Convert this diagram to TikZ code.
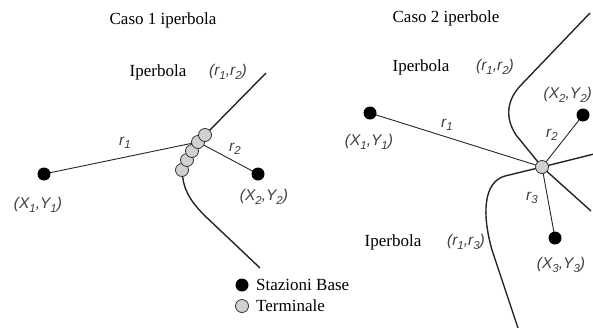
\documentclass[tikz,border=0pt]{standalone}
\usepackage{fontspec}
\setmainfont{Liberation Serif}
\setsansfont{Liberation Sans}
\pgfdeclarelayer{bg}
\pgfdeclarelayer{paper}
\pgfsetlayers{paper,bg,main}
\newcommand{\sbx}[1]{\raisebox{-0.4ex}{\fontsize{11.5}{11.5}\selectfont#1}}
\tikzset{
  base/.style={circle,fill=black,inner sep=0pt,minimum size=13pt},
  term/.style={circle,draw=black!80,fill=black!18,line width=0.8pt,inner sep=0pt,minimum size=13pt},
  hyp/.style={line width=1.4pt,draw=black!85},
  ray/.style={line width=0.9pt,draw=black!85},
  ttl/.style={inner sep=0pt,font=\fontsize{17}{19}\selectfont},
  lab/.style={inner sep=0pt,text=black!75,font=\sffamily\itshape\fontsize{15.5}{17}\selectfont},
}
\begin{document}
\begin{tikzpicture}[x=1pt,y=-1pt]
\begin{pgfonlayer}{paper}
\fill[white] (0,0) rectangle (593,327);
\end{pgfonlayer}
\useasboundingbox (0,0) rectangle (593,327);

% ---------- Caso 1 ----------
\node[ttl] (c1) at (163,20) {Caso 1 iperbola};
\node[ttl] (ip1) at (158,72) {Iperbola};
\node[lab] (l12) at (228,72) {(r\sbx{1},r\sbx{2})};

\node[base] (a1) at (44,174) {};
\node[base] (a2) at (258,174) {};
\node[term] (t5) at (182,170) {};
\node[term] (t4) at (187,160) {};
\node[term] (t3) at (192,151) {};
\node[term] (t2) at (198,142) {};
\node[term] (t1) at (205,135) {};

\node[lab] (ax1) at (38,205) {(X\sbx{1},Y\sbx{1})};
\node[lab] (ax2) at (264,197) {(X\sbx{2},Y\sbx{2})};
\node[lab] (ar1) at (125,143) {r\sbx{1}};
\node[lab] (ar2) at (235,149) {r\sbx{2}};

\coordinate (h1a) at (266,73);
\coordinate (h1b) at (260,268);

% ---------- Caso 2 ----------
\node[ttl] (c2) at (446,18) {Caso 2 iperbole};
\node[ttl] (ip2) at (421,67) {Iperbola};
\node[lab] (m12) at (495,67) {(r\sbx{1},r\sbx{2})};
\node[ttl] (ip3) at (393,242) {Iperbola};
\node[lab] (m13) at (466,242) {(r\sbx{1},r\sbx{3})};

\node[base] (b1) at (370,113) {};
\node[base] (b2) at (583,115) {};
\node[base] (b3) at (555,238) {};
\node[term] (T) at (542,167) {};

\node[lab] (bx1) at (369,142) {(X\sbx{1},Y\sbx{1})};
\node[lab,anchor=east] (bx2) at (592,95) {(X\sbx{2},Y\sbx{2})};
\node[lab] (bx3) at (561,265) {(X\sbx{3},Y\sbx{3})};
\node[lab] (br1) at (447,125) {r\sbx{1}};
\node[lab] (br2) at (552,135) {r\sbx{2}};
\node[lab] (br3) at (532,198) {r\sbx{3}};

\coordinate (hAa) at (590,13);
\coordinate (hAb) at (591,211);
\coordinate (hBa) at (594,154);
\coordinate (hBb) at (518,328);

% ---------- Legenda ----------
\node[base] (lb) at (242,285) {};
\node[term] (lt) at (242,306) {};
\node[ttl,anchor=west] (lbt) at (256,285) {Stazioni Base};
\node[ttl,anchor=west] (ltt) at (256,306) {Terminale};

\begin{pgfonlayer}{bg}
  % caso 1
  \draw[hyp] (h1a) -- (t1.center) -- (t5.center)
     .. controls (183,190) and (190,200) .. (203,214) -- (h1b);
  \draw[ray] (a1.center) -- (t2.center);
  \draw[ray] (t2.center) -- (a2.center);
  % caso 2
  \draw[hyp] (hAa) -- (522,84) .. controls (506,100) and (505,118) .. (516,135)
     -- (T.center) -- (hAb);
  \draw[hyp] (hBa) -- (T.center) -- (505,176)
     .. controls (483,182) and (482,215) .. (492,250) -- (hBb);
  \draw[ray] (b1.center) -- (T.center);
  \draw[ray] (T.center) -- (b2.center);
  \draw[ray] (T.center) -- (b3.center);
\end{pgfonlayer}
\end{tikzpicture}
\end{document}
